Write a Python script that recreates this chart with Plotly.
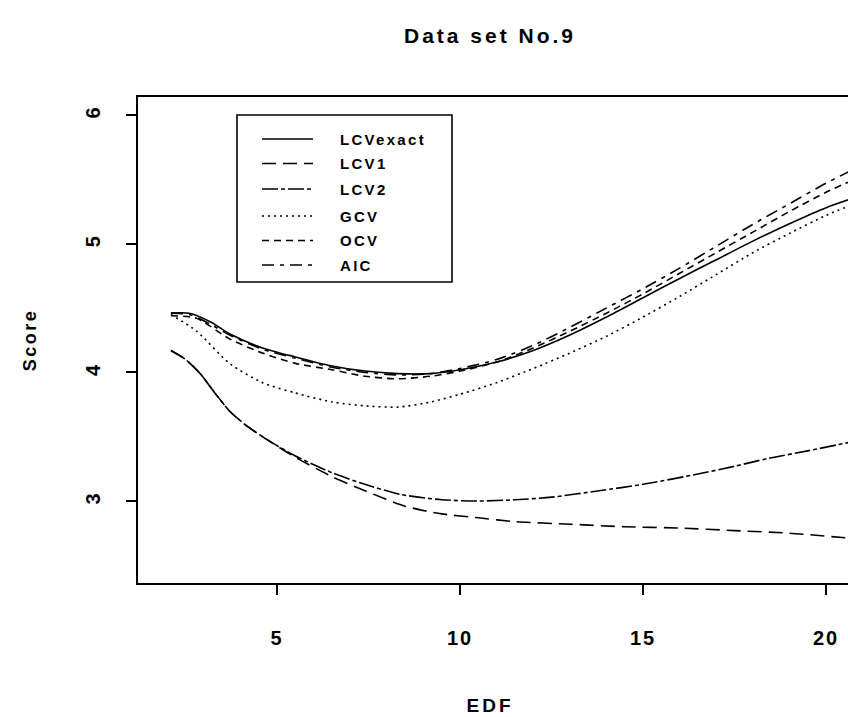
import plotly.graph_objects as go

# ---------------- data ----------------
lcvexact_x = [2.1, 2.6, 3.2, 3.7, 4.6, 5.5, 6.5, 7.4, 8.3, 9.2, 10, 11, 12, 13, 14, 15, 16, 17, 18, 19, 20, 20.7]
lcvexact_y = [4.46, 4.46, 4.39, 4.30, 4.19, 4.12, 4.05, 4.01, 3.99, 3.99, 4.02, 4.08, 4.17, 4.29, 4.43, 4.58, 4.73, 4.875, 5.02, 5.155, 5.28, 5.35]

aic_x = [2.1, 2.6, 3.2, 3.7, 4.6, 5.5, 6.5, 7.4, 8.3, 9.2, 10, 11, 12, 13, 14, 15, 16, 17, 18, 19, 20, 20.7]
aic_y = [4.46, 4.45, 4.37, 4.29, 4.18, 4.11, 4.04, 4.00, 3.98, 3.99, 4.03, 4.10, 4.21, 4.35, 4.50, 4.65, 4.81, 4.98, 5.15, 5.31, 5.47, 5.57]

ocv_x = [2.1, 2.8, 3.7, 4.6, 5.5, 6.5, 7.4, 8.3, 9.2, 10, 11, 12, 13, 14, 15, 16, 17, 18, 19, 20, 20.7]
ocv_y = [4.44, 4.42, 4.26, 4.15, 4.07, 4.02, 3.97, 3.95, 3.97, 4.01, 4.08, 4.19, 4.32, 4.46, 4.61, 4.77, 4.93, 5.09, 5.25, 5.40, 5.49]

gcv_x = [2.1, 2.8, 3.7, 4.6, 5.5, 6.5, 7.4, 8.3, 9.2, 10, 11, 12, 13, 14, 15, 16, 17, 18, 19, 20, 20.7]
gcv_y = [4.45, 4.32, 4.07, 3.92, 3.84, 3.77, 3.74, 3.73, 3.77, 3.83, 3.92, 4.03, 4.15, 4.28, 4.43, 4.59, 4.76, 4.93, 5.08, 5.22, 5.30]

lcv1_x = [2.1, 2.5, 2.9, 3.3, 3.7, 4.1, 4.6, 5.5, 6.5, 7.4, 8.5, 9.5, 10.5, 11.5, 13, 14.5, 16, 17.5, 19, 20.7]
lcv1_y = [4.17, 4.10, 3.99, 3.84, 3.70, 3.60, 3.50, 3.34, 3.19, 3.08, 2.96, 2.90, 2.87, 2.84, 2.82, 2.80, 2.79, 2.77, 2.75, 2.71]

lcv2_x = [2.1, 2.5, 2.9, 3.3, 3.7, 4.1, 4.6, 5.5, 6.5, 7.4, 8.4, 9.5, 10.5, 11.5, 12.5, 13.8, 15, 16.5, 17.5, 18.4, 19.5, 20.7]
lcv2_y = [4.17, 4.10, 3.99, 3.84, 3.70, 3.60, 3.50, 3.35, 3.22, 3.13, 3.05, 3.01, 3.00, 3.01, 3.03, 3.08, 3.13, 3.21, 3.27, 3.33, 3.39, 3.46]

x_ticks = [5, 10, 15, 20]
y_ticks = [3, 4, 5, 6]

series = [
    ("LCVexact", lcvexact_x, lcvexact_y, "solid"),
    ("LCV1", lcv1_x, lcv1_y, "14px,7px"),
    ("LCV2", lcv2_x, lcv2_y, "16px,3px,4px,3px"),
    ("GCV", gcv_x, gcv_y, "2px,4px"),
    ("OCV", ocv_x, ocv_y, "7px,5px"),
    ("AIC", aic_x, aic_y, "12px,6px,4px,6px"),
]

# ---------------- layout constants (pixels) ----------------
W, H = 848, 717
L, T, B, R = 138, 97, 583, 848
PW, PH = R - L, B - T

def px(xp):
    return (xp - L) / PW

def py(yp):
    return (B - yp) / PH

FONT = "Liberation Sans, Arial, sans-serif"

fig = go.Figure()
for name, xs, ys, dash in series:
    fig.add_trace(go.Scatter(
        x=xs, y=ys, mode="lines", name=name,
        line=dict(color="black", width=1.6, dash=dash, shape="spline", smoothing=0.7),
        showlegend=False,
    ))

# manual legend in the R style
shapes = [dict(type="rect", xref="paper", yref="paper",
               x0=px(237), x1=px(452), y0=py(282), y1=py(115),
               line=dict(color="black", width=1.6), fillcolor="white", layer="below")]
annotations = []
rows = [139, 163.5, 189, 216, 240.5, 265]
for (name, xs, ys, dash), ry in zip(series, rows):
    shapes.append(dict(type="line", xref="paper", yref="paper",
                       x0=px(262), x1=px(313), y0=py(ry), y1=py(ry),
                       line=dict(color="black", width=1.6, dash=dash)))
    annotations.append(dict(text=name, xref="paper", yref="paper",
                            x=px(338), y=py(ry), xanchor="left", yanchor="middle",
                            align="left", showarrow=False,
                            font=dict(family=FONT, size=15, color="black", weight="bold")))

annotations.append(dict(text="EDF", xref="paper", yref="paper",
                        x=px(490), y=py(705), xanchor="center", yanchor="middle",
                        showarrow=False,
                        font=dict(family=FONT, size=19, color="black", weight="bold")))
annotations.append(dict(text="Score", xref="paper", yref="paper",
                        x=px(30), y=py(340), xanchor="center", yanchor="middle",
                        textangle=-90, showarrow=False,
                        font=dict(family=FONT, size=18, color="black", weight="bold")))

fig.update_layout(
    width=W, height=H,
    margin=dict(l=L, r=W - R, t=T, b=H - B, pad=0),
    paper_bgcolor="white", plot_bgcolor="white",
    title=dict(text="Data set No.9", xref="container", yref="container",
               x=490 / W, y=1 - 36 / H, xanchor="center", yanchor="middle",
               font=dict(family=FONT, size=21, color="black", weight="bold")),
    shapes=shapes, annotations=annotations, showlegend=False,
)
fig.update_xaxes(range=[1.20, 20.6], tickvals=x_ticks, ticktext=[str(v) for v in x_ticks],
                 showgrid=False, zeroline=False, showline=True, mirror=True,
                 linecolor="black", linewidth=2, ticks="outside", ticklen=10,
                 tickwidth=1.6, tickcolor="black", ticklabelstandoff=26,
                 tickfont=dict(family=FONT, size=20, color="black", weight="bold"))
fig.update_yaxes(range=[2.363, 6.14], tickvals=y_ticks, ticktext=[str(v) for v in y_ticks],
                 showgrid=False, zeroline=False, showline=True, mirror=False,
                 linecolor="black", linewidth=2, ticks="outside", ticklen=10,
                 tickwidth=1.6, tickcolor="black", tickangle=-90, ticklabelstandoff=18,
                 tickfont=dict(family=FONT, size=20, color="black", weight="bold"))

# R/PostScript style wide letter tracking
post = """
var gd = document.getElementById('{plot_id}');
var names = {'LCVexact':2.3,'LCV1':2.3,'LCV2':2.3,'GCV':2.3,'OCV':2.3,'AIC':2.3,
             'Data set No.9':3,'EDF':3,'Score':2.5};
gd.querySelectorAll('text').forEach(function(t){
  var s = t.textContent;
  var sp = null;
  if (names.hasOwnProperty(s)) sp = names[s];
  else if (/^[0-9]+$/.test(s)) sp = 2;
  if (sp !== null) t.style.letterSpacing = sp + 'px';
});
"""
fig.write_html("out.html", post_script=post)
